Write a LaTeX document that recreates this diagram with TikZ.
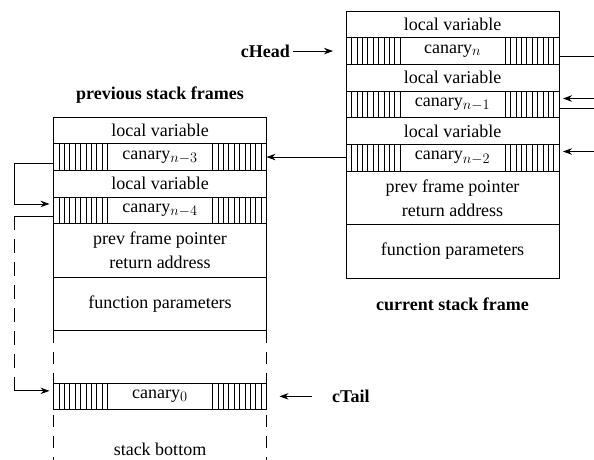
\documentclass[tikz,border=0pt]{standalone}
\usepackage{fontspec}
\setmainfont{Liberation Serif}
\DeclareMathSizes{18}{18}{14.4}{10}
\usetikzlibrary{arrows.meta,calc}
\begin{document}
\begin{tikzpicture}[x=1pt,y=-1pt,
  every node/.style={font=\fontsize{18}{24}\selectfont},
  row/.style={draw, line width=0.8pt, minimum width=213pt, minimum height=26.7pt, inner sep=0pt, outer sep=0pt, anchor=north},
  tallrow/.style={row, minimum height=53.4pt, align=center},
  canarybox/.style={row, path picture={
      \foreach \i in {0,...,10}{
        \draw[line width=0.6pt] ([xshift=\i*5.4pt]path picture bounding box.south west) -- ([xshift=\i*5.4pt]path picture bounding box.north west);
        \draw[line width=0.6pt] ([xshift=-\i*5.4pt]path picture bounding box.south east) -- ([xshift=-\i*5.4pt]path picture bounding box.north east);
      }}},
  lbl/.style={font=\fontsize{18}{24}\selectfont\bfseries, inner sep=2pt},
  arr/.style={line width=0.8pt, -{Stealth[length=9pt,width=6.5pt]}},
  con/.style={line width=0.8pt},
  dashside/.style={line width=0.8pt, dash pattern=on 12pt off 9pt},
  dashloop/.style={line width=0.8pt, dash pattern=on 14pt off 9pt}]
\useasboundingbox (0,0) rectangle (594,459);

% current stack frame
\node[row] (rlv1) at (452.5,11) {local variable};
\node[canarybox] (cn) at (rlv1.south) {canary$_n$};
\node[row] (rlv2) at (cn.south) {local variable};
\node[canarybox] (cn1) at (rlv2.south) {canary$_{n-1}$};
\node[row] (rlv3) at (cn1.south) {local variable};
\node[canarybox] (cn2) at (rlv3.south) {canary$_{n-2}$};
\node[tallrow] (rpf) at (cn2.south) {prev frame pointer\\return address};
\node[tallrow] (rfp) at (rpf.south) {function parameters};
\node[lbl] (curlbl) at (452.5,304) {current stack frame};

% previous stack frames
\node[lbl] (prevlbl) at (160,95) {previous stack frames};
\node[row] (llv1) at (160,117) {local variable};
\node[canarybox] (cn3) at (llv1.south) {canary$_{n-3}$};
\node[row] (llv2) at (cn3.south) {local variable};
\node[canarybox] (cn4) at (llv2.south) {canary$_{n-4}$};
\node[tallrow] (lpf) at (cn4.south) {prev frame pointer\\return address};
\node[tallrow] (lfp) at (lpf.south) {function parameters};
\coordinate (bl) at (lfp.south west |- 0,460);
\coordinate (br) at (lfp.south east |- 0,460);
\draw[dashside] (lfp.south west) -- (bl);
\draw[dashside] (lfp.south east) -- (br);
\node[canarybox] (c0) at (160,383) {canary$_0$};
\node (sb) at (160,449) {stack bottom};

% head and tail
\node[lbl, anchor=east] (chead) at ($(cn.west)+(-54,0)$) {cHead};
\draw[arr] ([xshift=1pt]chead.east) -- ([xshift=-13pt]cn.west);
\node[lbl, anchor=west] (ctail) at ($(c0.east)+(63.5,0)$) {cTail};
\draw[arr] ([xshift=-18pt]ctail.west) -- ([xshift=13pt]c0.east);

% right side links
\coordinate (o1) at (594,56.5);
\coordinate (i1) at (594,98.5);
\coordinate (o2) at (594,108.5);
\coordinate (i2) at (594,151.5);
\draw[con] (cn.east |- o1) -- (o1);
\draw[arr] (i1) -- ([xshift=4pt]cn1.east |- i1);
\draw[con] (cn1.east |- o2) -- (o2);
\draw[arr] (i2) -- ([xshift=4pt]cn2.east |- i2);

% frame link
\draw[arr] (cn2.west |- cn3.east) -- (cn3.east);

% left side loops
\coordinate (lx) at (14,0);
\draw[arr] ([yshift=-6pt]cn3.west) -- ([yshift=-6pt]cn3.west -| lx) |- ([xshift=-4pt,yshift=6.5pt]cn4.west);
\coordinate (ltop) at ([yshift=-5.5pt]cn4.west -| lx);
\coordinate (lbot) at ([yshift=5.5pt]c0.west -| lx);
\draw[con] ([yshift=-5.5pt]cn4.west) -- (ltop);
\draw[dashloop] (lbot) -- (ltop);
\draw[arr] (lbot) -- ([xshift=-4pt,yshift=5.5pt]c0.west);
\end{tikzpicture}
\end{document}
